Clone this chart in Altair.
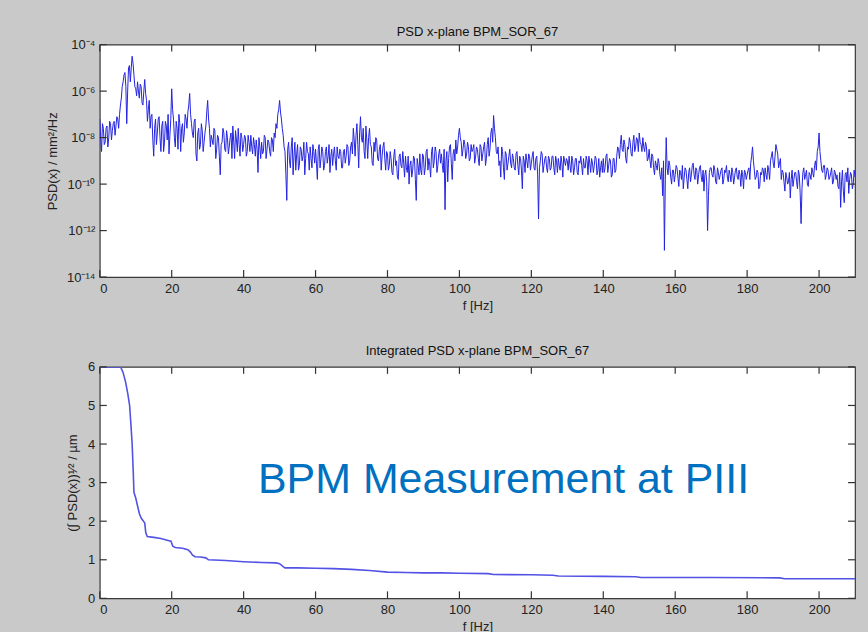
import altair as alt
import pandas as pd

FONT = "Liberation Sans"

# ---- PSD (top panel): log10 of PSD ----
# samples at 0, 0.5, 1.0, ... Hz
psd_exp_a = [
    -7.2, -8.6, -7.6, -8.2, -7.5, -8.0, -7.4, -7.7, -7.3, -7.5,
    -7.2, -7.0, -6.3, -5.6, -5.2, -7.4, -5.0, -5.6, -4.5, -5.3,
    -5.9, -5.6, -6.3, -5.8, -6.6, -5.5, -6.4, -6.8, -7.6, -7.0,
    -8.8, -7.2, -7.8, -7.1, -8.6, -7.3, -8.2, -7.5, -7.0, -7.9,
    -5.9, -7.2, -8.4, -7.6, -7.0, -8.6, -7.4, -7.8, -7.2, -6.9,
    -6.1, -7.4, -8.0, -7.2, -9.0, -7.6, -8.3, -7.7, -8.2, -7.5,
    -6.4, -7.6, -7.9, -8.3, -7.7, -8.5, -8.0, -9.6, -8.2, -7.8,
    -8.6, -8.0, -8.4, -7.8, -7.5, -8.9, -8.1, -7.6, -8.8, -8.0,
    -8.3, -8.0, -8.6, -8.2, -7.9, -8.7, -8.3, -8.1, -9.5, -8.4,
    -8.2, -8.6, -8.0, -8.5, -8.2, -8.8, -8.1, -7.8, -7.4, -7.0,
    -6.4, -7.2, -7.9, -8.6, -10.7, -8.2, -9.3, -8.0, -8.8, -9.4,
    -8.3, -9.2, -8.5, -8.8, -9.6, -8.2, -8.7, -8.4, -9.3, -8.6,
    -8.5, -9.8, -8.3, -8.9, -8.6, -9.2, -8.4, -8.8, -9.5, -8.5,
    -8.7, -9.0, -8.4, -8.9, -8.6, -9.3, -8.5, -8.8, -8.4, -9.0,
    -8.2, -7.6, -8.8, -7.4, -9.3, -7.1, -8.2, -8.6, -7.5, -8.9,
    -7.6, -8.4, -9.2, -8.6, -8.1, -9.0, -8.3, -8.8, -8.2, -9.4,
    -8.7, -9.2, -8.9, -9.6, -8.5, -9.0, -9.8, -8.7, -9.3, -9.1,
    -8.8, -9.5, -10.0, -9.0, -9.4, -8.9, -10.7, -9.2, -8.7, -9.6,
    -8.8, -9.3, -8.5, -8.9, -9.7, -8.4, -9.0, -8.6, -9.2, -8.5,
    -8.7, -9.5, -11.1, -8.6, -8.9, -8.3, -9.8, -8.5, -8.1, -8.4,
    -7.6, -8.2, -8.5, -8.3, -8.7, -8.4, -8.9, -8.6, -8.3, -8.8,
    -8.5, -9.2, -8.4, -8.7, -8.2, -8.9, -8.0, -8.5, -7.6, -7.05,
    -8.0, -8.7, -9.2, -9.7, -8.6, -9.8, -8.7, -9.1, -8.5, -9.3,
    -8.9, -9.4, -8.6, -9.6, -8.9, -10.2, -9.0, -8.7, -9.3, -8.8,
    -9.1, -8.6, -9.4, -8.8, -11.5, -9.0, -8.7, -9.2, -8.8, -9.5,
    -8.9, -9.3, -8.8, -9.6, -9.0, -8.9, -9.4, -9.1, -8.8, -9.2,
    -9.0, -8.8, -9.5, -9.0, -9.3, -8.9, -9.6, -9.1, -9.2, -8.9,
    -9.3, -9.0, -8.8, -9.5, -9.1, -9.2, -8.9, -9.4, -9.7, -9.0,
    -8.9, -9.3, -8.7, -9.2, -9.0, -9.6, -8.9, -9.4, -8.4, -8.9,
    -7.9, -8.6, -8.3, -9.1, -8.5, -8.2, -8.8, -7.9, -8.4, -8.1,
    -7.8, -8.3, -8.0, -8.6, -8.4, -8.9, -9.0, -8.7, -9.3, -9.0,
    -9.4, -9.1, -9.8, -10.5, -12.85, -8.0, -9.6, -9.2, -10.0, -9.4,
    -9.6, -9.3, -10.1, -9.5, -9.2, -9.7, -9.4, -10.2, -9.3, -9.6,
    -9.1, -9.8, -9.4, -9.6, -9.2, -9.9, -10.3, -9.4, -12.0, -9.5,
    -9.3, -9.7, -9.4, -10.0, -9.5, -9.6, -9.3, -9.8, -9.5, -9.7,
    -9.4, -9.9, -9.5, -9.7, -9.3, -9.8, -9.6, -9.4, -10.2, -9.5,
    -9.6, -9.3, -9.1, -8.4, -9.4, -9.7, -9.5, -10.1, -9.6, -9.4,
    -9.3, -9.8, -9.4, -9.0, -8.6, -9.3, -8.3, -8.7, -9.1, -9.8,
    -9.5, -10.3, -9.7, -9.9, -10.6, -9.4, -9.8, -9.5, -10.2, -9.6,
    -11.7, -9.5, -9.8, -9.4, -10.1, -9.6, -9.3, -9.7, -9.0, -8.6,
    -7.8, -9.0, -9.5, -9.2, -9.6, -9.4, -9.7, -9.3, -9.9, -9.5,
    -9.6, -10.2, -11.0, -9.4, -10.8, -9.5, -9.3, -9.8, -9.6, -10.0,
    -9.7,
]
# samples at 0.25, 0.75, 1.25, ... Hz
psd_exp_b = [
    -8.0, -7.4, -8.3, -7.6, -8.4, -7.3, -8.1, -7.4, -7.9, -7.1,
    -7.6, -6.6, -5.8, -5.3, -5.8, -6.0, -4.9, -5.0, -4.8, -5.8,
    -6.2, -6.0, -5.7, -6.5, -6.0, -6.1, -7.3, -6.4, -7.1, -8.1,
    -7.6, -8.3, -7.2, -8.0, -7.5, -8.6, -7.3, -8.1, -8.7, -7.2,
    -6.8, -8.0, -7.3, -8.5, -7.4, -7.6, -8.2, -7.0, -7.6, -6.6,
    -7.0, -7.8, -7.3, -8.7, -7.8, -8.5, -7.4, -8.6, -7.8, -6.9,
    -7.2, -8.4, -8.1, -7.6, -8.9, -7.9, -8.8, -8.3, -7.6, -8.5,
    -7.7, -8.7, -8.0, -8.9, -8.2, -7.7, -8.6, -8.3, -7.8, -8.6,
    -7.9, -8.8, -7.9, -8.6, -8.4, -8.0, -8.8, -8.5, -8.0, -8.9,
    -8.7, -7.9, -8.9, -8.1, -8.6, -8.0, -8.6, -8.0, -7.6, -6.8,
    -6.9, -7.6, -8.4, -9.6, -8.5, -9.0, -8.4, -9.6, -8.2, -8.7,
    -9.4, -8.4, -9.0, -8.2, -8.9, -8.6, -9.4, -8.9, -8.3, -9.1,
    -9.1, -8.5, -9.3, -8.4, -9.4, -8.6, -9.1, -8.3, -8.8, -9.2,
    -8.4, -9.4, -8.8, -8.5, -9.3, -8.6, -9.1, -8.3, -9.2, -8.4,
    -8.7, -8.1, -7.9, -8.3, -7.8, -8.0, -7.6, -8.9, -8.1, -8.0,
    -8.3, -9.1, -8.2, -8.0, -8.9, -8.5, -9.4, -8.4, -8.9, -8.6,
    -9.4, -8.6, -9.5, -8.8, -9.2, -9.7, -8.8, -9.2, -8.6, -9.7,
    -9.3, -8.8, -9.2, -9.7, -8.8, -9.8, -8.9, -9.6, -9.4, -8.7,
    -9.6, -8.6, -9.4, -9.2, -8.6, -9.3, -8.4, -9.5, -8.7, -9.1,
    -9.2, -8.5, -9.0, -9.9, -8.4, -9.1, -8.7, -9.0, -8.7, -7.9,
    -8.0, -8.8, -8.1, -8.9, -8.2, -9.0, -8.3, -8.5, -9.1, -8.4,
    -8.9, -8.3, -9.0, -8.4, -9.2, -8.3, -8.8, -7.8, -8.2, -7.6,
    -8.6, -8.4, -9.0, -8.4, -9.3, -8.6, -9.4, -8.8, -9.1, -8.7,
    -9.3, -8.7, -9.2, -8.8, -9.4, -8.8, -9.5, -9.0, -8.7, -9.4,
    -8.8, -9.3, -8.9, -9.6, -9.3, -8.6, -9.5, -8.9, -9.3, -8.8,
    -9.4, -8.8, -9.3, -8.8, -9.5, -9.2, -8.8, -9.7, -9.0, -8.9,
    -9.4, -9.2, -8.8, -9.6, -8.9, -9.5, -9.0, -8.8, -9.6, -9.3,
    -8.8, -9.6, -9.1, -8.9, -9.5, -8.8, -9.6, -8.9, -9.3, -9.5,
    -9.5, -8.8, -9.5, -8.9, -9.7, -8.9, -9.5, -8.8, -8.5, -8.3,
    -8.5, -8.1, -8.9, -8.4, -8.0, -8.7, -8.2, -8.6, -8.0, -8.6,
    -8.2, -8.6, -8.4, -8.2, -9.0, -8.5, -9.3, -8.8, -9.6, -9.2,
    -8.9, -9.6, -9.3, -9.0, -9.8, -9.3, -9.0, -9.7, -9.4, -9.9,
    -9.2, -9.7, -9.4, -9.8, -10.2, -9.3, -9.8, -9.5, -9.9, -9.2,
    -9.6, -9.3, -10.0, -9.3, -9.7, -9.4, -9.6, -9.9, -10.5, -9.3,
    -9.6, -9.2, -9.9, -9.3, -9.8, -9.4, -10.0, -9.4, -9.2, -9.9,
    -9.6, -9.3, -10.0, -9.4, -9.7, -9.4, -10.1, -9.6, -9.4, -9.8,
    -9.4, -9.8, -8.8, -9.0, -9.8, -9.4, -10.2, -9.5, -9.3, -9.9,
    -9.6, -9.2, -9.8, -8.8, -9.1, -8.8, -8.5, -9.3, -8.9, -9.4,
    -9.9, -9.5, -10.0, -9.5, -9.8, -10.1, -9.5, -9.9, -9.4, -10.4,
    -10.2, -9.3, -9.6, -10.0, -9.5, -9.8, -9.5, -9.2, -9.4, -8.4,
    -8.6, -9.4, -9.2, -9.8, -9.3, -9.8, -9.5, -10.0, -9.4, -9.8,
    -10.1, -9.5, -9.9, -10.3, -9.6, -9.9, -10.4, -9.5, -10.2, -9.4,
]
psd_freq_a = [i * 0.5 for i in range(len(psd_exp_a))]
psd_freq_b = [0.25 + i * 0.5 for i in range(len(psd_exp_b))]

# ---- Integrated PSD (bottom panel) ----
int_freq = [0, 5.8, 6.5, 7.2, 7.8, 8.3, 8.7, 9.0, 9.3, 9.5,
            10.0, 10.5, 11.0, 11.5, 12.0, 12.5, 12.8, 13.2, 15, 17,
            19, 19.8, 20.3, 21, 23, 24.5, 25.2, 25.8, 26.5, 28,
            29.5, 30.2, 35, 40, 45, 49, 50, 51, 51.5, 55,
            60, 65, 70, 75, 80, 85, 90, 95, 100, 108,
            109.5, 120, 126, 127.5, 140, 149, 150.5, 170, 189, 190.5,
            210]
int_val = [6.0, 6.0, 5.85, 5.6, 5.3, 5.0, 4.45, 4.0, 3.3, 2.75,
           2.6, 2.4, 2.2, 2.08, 2.02, 1.95, 1.7, 1.6, 1.58, 1.55,
           1.5, 1.48, 1.35, 1.32, 1.3, 1.26, 1.2, 1.12, 1.08, 1.07,
           1.05, 1.0, 0.98, 0.95, 0.93, 0.92, 0.9, 0.82, 0.79, 0.79,
           0.78, 0.77, 0.75, 0.72, 0.68, 0.67, 0.66, 0.66, 0.65, 0.64,
           0.62, 0.61, 0.6, 0.58, 0.57, 0.56, 0.54, 0.54, 0.53, 0.51,
           0.51]

x_ticks = [0, 20, 40, 60, 80, 100, 120, 140, 160, 180, 200]
psd_ticks = [1e-4, 1e-6, 1e-8, 1e-10, 1e-12, 1e-14]
psd_tick_labels = ["10⁻⁴", "10⁻⁶", "10⁻⁸", "10⁻¹⁰", "10⁻¹²", "10⁻¹⁴"]
int_ticks = [0, 1, 2, 3, 4, 5, 6]

top_title = "PSD x-plane BPM_SOR_67"
bottom_title = "Integrated PSD x-plane BPM_SOR_67"
x_title = "f [Hz]"
top_y_title = "PSD(x) / mm²/Hz"
bottom_y_title = "(∫ PSD(x))¹⁄² / µm"
note_text = ["BPM Measurement at PIII"]
note_f = [44]
note_v = [2.74]

W, H1, H2, TICK = 757, 233, 232, 7
TICK_COLOR = "#333333"
LABEL_COLOR = "#222222"

xs = alt.Scale(domain=[0, 210], nice=False, zero=False)
ys_top = alt.Scale(type="log", domain=[1e-14, 1e-4], nice=False)
ys_bot = alt.Scale(domain=[0, 6], nice=False, zero=False)

label_expr = "[" + ",".join(f"'{l}'" for l in psd_tick_labels) + "][round((-log(datum.value)/LN10 - 4)/2)]"

x_axis = alt.Axis(values=x_ticks, ticks=False, domain=False, grid=False, labelFont=FONT,
                  labelFontSize=13, labelColor=LABEL_COLOR, labelPadding=5, title=x_title,
                  titleFont=FONT, titleFontSize=13, titleFontWeight="normal", titleColor=LABEL_COLOR,
                  titleY=22, titleBaseline="top", minExtent=30, maxExtent=30)
y_axis_top = alt.Axis(
    values=psd_ticks, labelExpr=label_expr, ticks=False, domain=False, grid=False,
    labelFont=FONT, labelFontSize=13, labelColor=LABEL_COLOR, labelPadding=5,
    title=top_y_title, titleFont=FONT, titleFontSize=13, titleFontWeight="normal",
    titleColor=LABEL_COLOR, titleX=-47, titleBaseline="middle")
y_axis_bot = alt.Axis(
    values=int_ticks, format="d", ticks=False, domain=False, grid=False,
    labelFont=FONT, labelFontSize=13, labelColor=LABEL_COLOR, labelPadding=5,
    title=bottom_y_title, titleFont=FONT, titleFontSize=13, titleFontWeight="normal",
    titleColor=LABEL_COLOR, titleX=-27, titleBaseline="middle")


def tick_layers(ydata, yscale, yaxis, H):
    xt = pd.DataFrame({"f": x_ticks})
    yt = pd.DataFrame({"y": ydata})
    b = alt.Chart(xt).mark_rule(color=TICK_COLOR, strokeWidth=1.2).encode(
        x=alt.X("f:Q", scale=xs, axis=x_axis), y=alt.value(H), y2=alt.value(H - TICK))
    t = alt.Chart(xt).mark_rule(color=TICK_COLOR, strokeWidth=1.2).encode(
        x=alt.X("f:Q", scale=xs, axis=x_axis), y=alt.value(0), y2=alt.value(TICK))
    l = alt.Chart(yt).mark_rule(color=TICK_COLOR, strokeWidth=1.2).encode(
        y=alt.Y("y:Q", scale=yscale, axis=yaxis), x=alt.value(0), x2=alt.value(TICK))
    r = alt.Chart(yt).mark_rule(color=TICK_COLOR, strokeWidth=1.2).encode(
        y=alt.Y("y:Q", scale=yscale, axis=yaxis), x=alt.value(W - TICK), x2=alt.value(W))
    return [b, t, l, r]


psd_df = pd.DataFrame({"f": psd_freq_a + psd_freq_b,
                       "y": [10 ** e for e in psd_exp_a + psd_exp_b]}).sort_values("f")
top_line = alt.Chart(psd_df).mark_line(color="#2323e0", strokeWidth=1, clip=True).encode(
    x=alt.X("f:Q", scale=xs, axis=x_axis),
    y=alt.Y("y:Q", scale=ys_top, axis=y_axis_top),
)
top = alt.layer(top_line, *tick_layers(psd_ticks, ys_top, y_axis_top, H1)).properties(
    width=W, height=H1,
    title=alt.TitleParams(top_title, font=FONT, fontSize=13, fontWeight="normal", color="#111111",
                          anchor="middle", frame="group", baseline="bottom", offset=-13))

int_df = pd.DataFrame({"f": int_freq, "y": int_val})
bot_line = alt.Chart(int_df).mark_line(color="#5252e4", strokeWidth=1.6, clip=True).encode(
    x=alt.X("f:Q", scale=xs, axis=x_axis),
    y=alt.Y("y:Q", scale=ys_bot, axis=y_axis_bot),
)
note_df = pd.DataFrame({"f": note_f, "y": note_v, "t": note_text})
note = alt.Chart(note_df).mark_text(align="left", baseline="alphabetic", font=FONT, fontSize=43,
                                    color="#0070C0").encode(
    x=alt.X("f:Q", scale=xs, axis=x_axis), y=alt.Y("y:Q", scale=ys_bot, axis=y_axis_bot), text="t:N")
bottom = alt.layer(bot_line, note, *tick_layers(int_ticks, ys_bot, y_axis_bot, H2)).properties(
    width=W, height=H2,
    title=alt.TitleParams(bottom_title, font=FONT, fontSize=13, fontWeight="normal", color="#111111",
                          anchor="middle", frame="group", baseline="bottom", offset=-10))

chart = alt.vconcat(top, bottom, spacing=90, bounds="flush").properties(
    background="#c9c9c9",
    padding={"left": 46, "top": 24, "right": 11, "bottom": 0},
).configure_view(stroke="#3a3a3a", strokeWidth=1.2, fill="white")

chart.save("out.html", embed_options={"renderer": "svg", "actions": False})
